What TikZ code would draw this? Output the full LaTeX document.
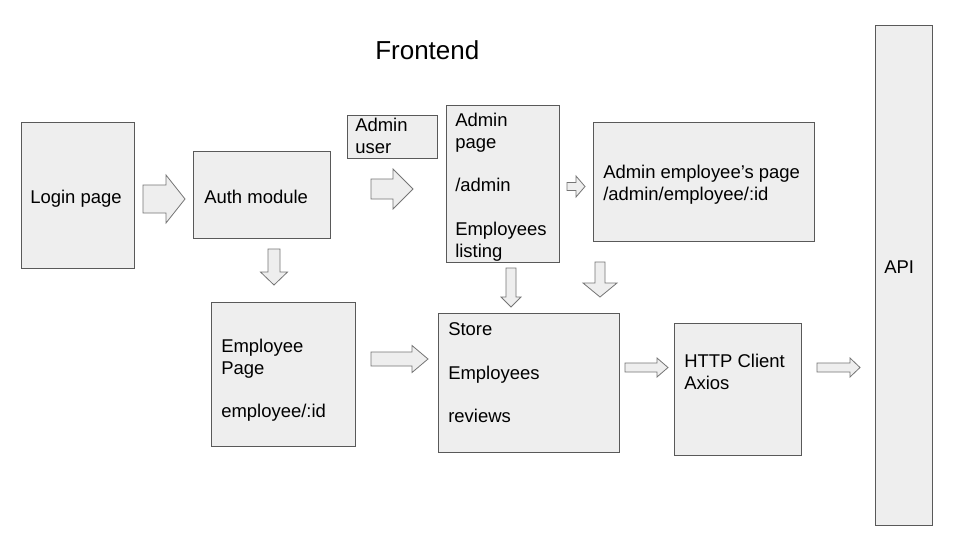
\documentclass[tikz,border=0pt]{standalone}
\usepackage{fontspec}
\setmainfont{Liberation Sans}
\usetikzlibrary{fit}
\definecolor{boxfill}{HTML}{EEEEEE}
\definecolor{boxline}{HTML}{595959}
\definecolor{arrline}{HTML}{757575}
\newcommand{\harrow}[6]{% xleft, xheadstart, xtip, ycenter, halfshaft, halfhead
  \draw[blockarrow] (#1,{#4-#5}) -- (#2,{#4-#5}) -- (#2,{#4-#6}) -- (#3,#4) -- (#2,{#4+#6}) -- (#2,{#4+#5}) -- (#1,{#4+#5}) -- cycle;}
\newcommand{\varrow}[6]{% ytop, yheadstart, ytip, xcenter, halfshaft, halfhead
  \draw[blockarrow] ({#4-#5},#1) -- ({#4-#5},#2) -- ({#4-#6},#2) -- (#4,#3) -- ({#4+#6},#2) -- ({#4+#5},#2) -- ({#4+#5},#1) -- cycle;}
\begin{document}
\begin{tikzpicture}[x=0.75pt,y=-0.75pt,
  box/.style={draw=boxline,fill=boxfill,line width=0.75pt,inner sep=0pt},
  blockarrow/.style={draw=arrline,fill=boxfill,line width=0.6pt,line join=miter},
  txt/.style={inner sep=0pt,align=left,text=black,font=\fontsize{13.85pt}{16.4pt}\selectfont},
  title/.style={inner sep=0pt,text=black,font=\fontsize{19.5pt}{23pt}\selectfont}]
\useasboundingbox[fill=white] (0,0) rectangle (960,540);

% boxes
\node[box,fit={(21,122)(134,268)}] (login) {};
\node[box,fit={(193,151)(330,238)}] (auth) {};
\node[box,fit={(347,115)(437,158)}] (adminuser) {};
\node[box,fit={(446,105)(559,262)}] (adminpage) {};
\node[box,fit={(593,122)(814,241)}] (adminemp) {};
\node[box,fit={(211,302)(355,446)}] (emppage) {};
\node[box,fit={(438,313)(619,452)}] (store) {};
\node[box,fit={(674,323)(801,455)}] (http) {};
\node[box,fit={(875,25)(932,525)}] (api) {};

% texts
\node[title,anchor=base west] (titletxt) at (375,59) {Frontend};
\node[txt,anchor=base west] (logintxt) at (30,203) {Login page};
\node[txt,anchor=base west] (authtxt) at (204,203) {Auth module};
\node[txt,anchor=north west] (adminusertxt) at (355,{131-15.3}) {\strut Admin\\user};
\node[txt,anchor=north west] (adminpagetxt) at (455,{126-15.3}) {\strut Admin\\page\\{}\\/admin\\{}\\Employees\\listing};
\node[txt,anchor=north west] (adminemptxt) at (603,{178-15.3}) {\strut Admin employee’s page\\/admin/employee/:id};
\node[txt,anchor=north west] (emppagetxt) at (221,{352-15.3}) {\strut Employee\\Page\\{}\\employee/:id};
\node[txt,anchor=north west] (storetxt) at (448,{335-15.3}) {\strut Store\\{}\\Employees\\{}\\reviews};
\node[txt,anchor=north west] (httptxt) at (684,{367-15.3}) {\strut HTTP Client\\Axios};
\node[txt,anchor=base west] (apitxt) at (884,273) {API};

% block arrows
\harrow{143}{166}{185}{199}{14}{24}
\harrow{371}{393}{413}{189}{10}{20}
\harrow{567}{576}{585}{186.5}{4}{10.5}
\harrow{371}{412}{428}{359}{7}{13.5}
\harrow{625}{657}{668}{367.5}{4.5}{9.5}
\harrow{817}{850}{860}{367.5}{4.5}{9.5}
\varrow{249}{272}{285}{274}{6}{13.5}
\varrow{268}{297}{307}{511}{5}{10}
\varrow{262}{283}{297}{600}{5}{17}
\end{tikzpicture}
\end{document}
